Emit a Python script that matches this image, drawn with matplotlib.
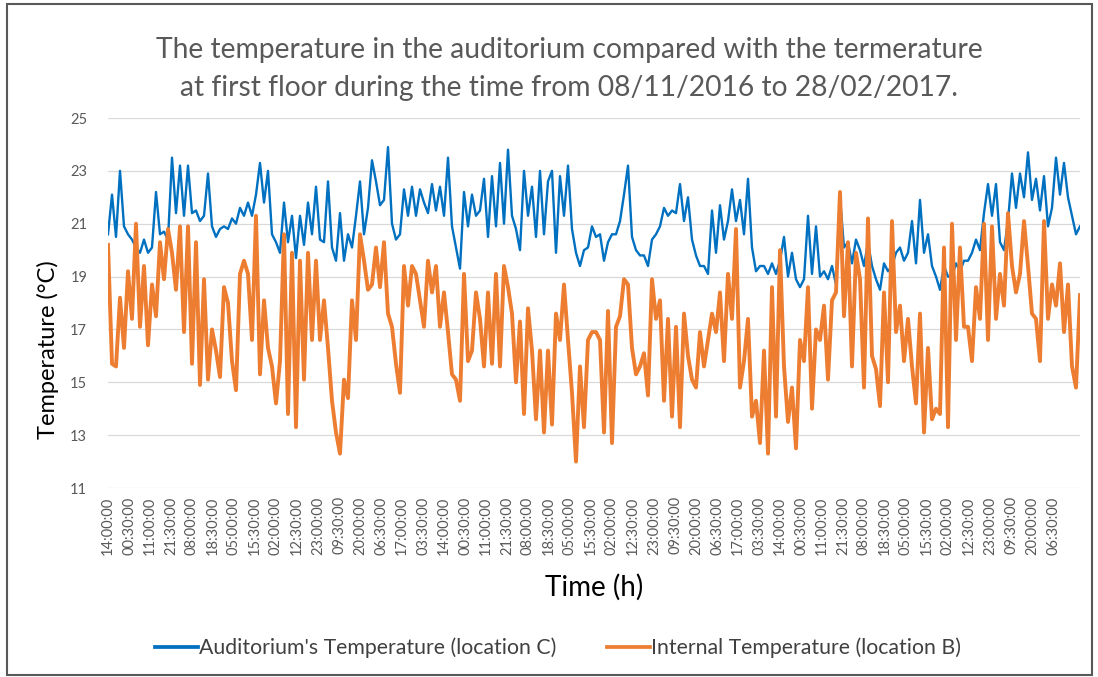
import numpy as np
import matplotlib
matplotlib.use("Agg")
import matplotlib.pyplot as plt
from matplotlib.patches import Rectangle

# ---------------- data (2-hourly readings) ----------------
auditorium_C = [
    20.6, 22.1, 20.5, 23.0, 20.9, 20.6, 20.4, 20.1, 19.9, 20.4, 19.9, 20.1, 22.2, 20.6, 20.7,
    20.4, 23.5, 21.4, 23.2, 21.3, 23.2, 21.4, 21.5, 21.1, 21.3, 22.9, 20.9, 20.5, 20.8,
    20.9, 20.8, 21.2, 21.0, 21.6, 21.3, 21.8, 21.3, 22.1, 23.3, 21.8, 23.0, 20.6, 20.3, 19.9,
    21.8, 20.3, 21.3, 19.7, 21.3, 20.2, 21.8, 20.6, 22.4, 20.4, 20.3, 22.6, 20.1, 19.6, 21.4, 19.6,
    20.6, 20.1, 21.3, 22.6, 20.6, 21.6, 23.4, 22.6, 21.7, 21.9, 23.9, 21.0, 20.4, 20.6, 22.3,
    21.3, 22.4, 21.3, 22.3, 21.8, 21.4, 22.5, 21.5, 22.4, 21.3, 23.5, 20.9, 20.1, 19.3, 22.2, 20.9,
    22.1, 21.3, 21.5, 22.7, 20.5, 22.8, 20.9, 23.3, 21.0, 23.8, 21.3, 20.8, 20.0, 23.0, 21.3,
    22.4, 20.5, 23.0, 20.6, 22.6, 23.0, 19.9, 22.8, 21.3, 23.2, 20.8, 19.9, 19.4, 20.0, 20.1, 20.9,
    20.5, 20.6, 19.6, 20.3, 20.6, 20.6, 21.1, 22.1, 23.2, 20.5, 20.0, 19.8, 19.8, 19.4, 20.4,
    20.6, 20.9, 21.6, 21.3, 21.5, 21.4, 22.5, 21.1, 22.0, 20.4, 19.8, 19.4, 19.4, 19.1, 21.5, 19.9,
    21.7, 20.4, 21.1, 22.3, 21.1, 21.9, 20.6, 22.7, 20.1, 19.2, 19.4, 19.4, 19.1, 19.5, 19.1,
    19.6, 20.5, 19.0, 19.9, 18.9, 18.6, 18.9, 21.3, 19.1, 20.9, 19.0, 19.2, 18.9, 19.4, 18.7, 22.0,
    20.1, 20.3, 19.5, 20.4, 20.0, 19.4, 20.3, 19.4, 18.9, 18.5, 19.5, 19.2, 19.4, 19.9, 20.1,
    19.6, 19.9, 21.1, 19.5, 21.9, 19.9, 20.6, 19.4, 19.0, 18.5, 19.4, 19.0, 19.0, 19.5, 19.2, 19.6,
    19.6, 19.9, 20.4, 20.0, 21.4, 22.5, 21.3, 22.5, 20.3, 20.0, 21.1, 22.9, 21.6, 22.9, 22.0,
    23.7, 21.9, 22.7, 21.5, 22.8, 20.9, 21.6, 23.5, 22.1, 23.3, 22.0, 21.3, 20.6, 20.9,
]

internal_B = [
    20.2, 15.7, 15.6, 18.2, 16.3, 19.2, 17.4, 21.0, 17.1, 19.4, 16.4, 18.7, 17.5, 20.3, 18.9,
    20.8, 19.9, 18.5, 20.9, 16.9, 20.9, 15.7, 20.3, 14.9, 18.9, 15.1, 17.0, 16.2, 15.2,
    18.6, 18.0, 15.8, 14.7, 19.1, 19.6, 19.1, 16.6, 21.3, 15.3, 18.1, 16.3, 15.6, 14.2, 15.8,
    20.6, 13.8, 19.9, 13.3, 19.6, 15.1, 19.9, 16.6, 19.6, 16.6, 18.1, 16.3, 14.3, 13.1, 12.3, 15.1,
    14.4, 18.1, 16.6, 20.6, 19.6, 18.5, 18.7, 20.1, 18.6, 20.3, 17.6, 17.1, 15.7, 14.6, 19.4,
    17.9, 19.4, 19.1, 18.1, 17.1, 19.6, 18.4, 19.4, 17.1, 18.4, 16.9, 15.3, 15.1, 14.3, 19.1, 15.8,
    16.2, 18.4, 17.4, 15.6, 18.4, 15.7, 19.1, 15.6, 19.4, 18.6, 17.6, 15.0, 17.3, 13.8, 17.8,
    16.2, 13.6, 16.2, 13.1, 16.2, 13.4, 17.6, 16.6, 18.7, 16.6, 14.6, 12.0, 15.6, 13.3, 16.6, 16.9,
    16.9, 16.6, 13.1, 17.7, 12.7, 17.1, 17.5, 18.9, 18.7, 16.3, 15.3, 15.6, 16.1, 14.5, 18.9,
    17.4, 18.1, 14.3, 17.4, 13.7, 17.1, 13.3, 17.6, 16.0, 15.1, 14.8, 16.9, 15.6, 16.6, 17.6, 16.9,
    18.4, 15.8, 19.1, 17.4, 20.8, 14.8, 15.8, 17.4, 13.7, 14.3, 12.7, 16.2, 12.3, 18.6, 13.7,
    20.0, 15.6, 13.5, 14.8, 12.5, 16.6, 15.8, 18.6, 14.0, 17.0, 16.6, 17.9, 15.1, 18.1, 18.4, 22.2,
    17.5, 20.3, 15.6, 19.9, 18.9, 14.8, 21.2, 16.0, 15.5, 14.1, 18.4, 15.0, 21.1, 16.9, 17.9,
    15.8, 17.4, 15.6, 14.2, 17.6, 13.1, 16.3, 13.6, 14.0, 13.8, 20.1, 13.3, 21.0, 16.6, 20.1, 17.1,
    17.1, 15.8, 18.6, 17.4, 21.0, 16.6, 20.9, 17.4, 19.1, 17.9, 21.4, 19.4, 18.4, 19.1, 21.1,
    19.4, 17.6, 17.4, 15.8, 21.1, 17.4, 18.7, 17.9, 19.5, 16.9, 18.7, 15.6, 14.8, 18.3,
]

sample_step_h = 2.0      # hours between readings above
label_step_h = 10.5      # hours between category labels
tick_labels = [
    "14:00:00", "00:30:00", "11:00:00", "21:30:00", "08:00:00", "18:30:00", "05:00:00", "15:30:00",
    "02:00:00", "12:30:00", "23:00:00", "09:30:00", "20:00:00", "06:30:00", "17:00:00", "03:30:00",
    "14:00:00", "00:30:00", "11:00:00", "21:30:00", "08:00:00", "18:30:00", "05:00:00", "15:30:00",
    "02:00:00", "12:30:00", "23:00:00", "09:30:00", "20:00:00", "06:30:00", "17:00:00", "03:30:00",
    "14:00:00", "00:30:00", "11:00:00", "21:30:00", "08:00:00", "18:30:00", "05:00:00", "15:30:00",
    "02:00:00", "12:30:00", "23:00:00", "09:30:00", "20:00:00", "06:30:00",
]
y_ticks = [11, 13, 15, 17, 19, 21, 23, 25]

title_lines = ["The temperature in the auditorium compared with the termerature",
               "at first floor during the time from 08/11/2016 to 28/02/2017."]
series_names = ["Auditorium's Temperature (location C)", "Internal Temperature (location B)"]

# ---------------- figure ----------------
FONT = ["Lato", "DejaVu Sans"]
plt.rcParams["font.family"] = FONT

W, H = 1098, 677
fig = plt.figure(figsize=(W / 100, H / 100), dpi=100)
fig.patch.set_facecolor("white")

ax = fig.add_axes([108 / W, (H - 488) / H, 972 / W, 370 / H])

t = np.arange(len(auditorium_C)) * sample_step_h
l1, = ax.plot(t, auditorium_C, color="#0070C0", lw=1.7, solid_joinstyle="round")
l2, = ax.plot(t, internal_B, color="#ED7D31", lw=2.8, solid_joinstyle="round")

ax.set_xlim(0, (len(auditorium_C) - 1) * sample_step_h)
ax.set_ylim(11, 25)
ax.set_yticks(y_ticks)
ax.set_xticks(np.arange(len(tick_labels)) * label_step_h)
ax.set_xticklabels(tick_labels, rotation=90)
for s in ax.spines.values():
    s.set_visible(False)
ax.grid(axis="y", color="#D9D9D9", lw=0.9)
ax.set_axisbelow(True)
ax.tick_params(axis="both", length=0, colors="#595959", labelsize=10.5)
ax.tick_params(axis="y", pad=15)
ax.tick_params(axis="x", pad=6)

ax.set_ylabel("Temperature (°C)", fontsize=17, color="black", va="center")
ax.yaxis.set_label_coords((48 - 108) / 972, (488 - 350) / 370)
ax.set_xlabel("Time (h)", fontsize=20, color="black", va="center")
ax.xaxis.set_label_coords((594 - 108) / 972, (488 - 587) / 370)

fig.text(569 / W, 1 - 50 / H, title_lines[0], ha="center", va="center",
         fontsize=20.3, color="#595959")
fig.text(569 / W, 1 - 88 / H, title_lines[1], ha="center", va="center",
         fontsize=20.3, color="#595959")

leg = fig.legend([l1, l2], series_names, loc="center", ncol=2,
                 bbox_to_anchor=(558 / W, 1 - 648 / H), frameon=False,
                 fontsize=15.3, handlelength=2.0, handletextpad=0.05,
                 columnspacing=2.4)
for txt in leg.get_texts():
    txt.set_color("#404040")
for ln in leg.get_lines():
    ln.set_linewidth(2.7)

fig.add_artist(Rectangle((7 / W, 2 / H), 1085 / W, 671 / H, transform=fig.transFigure,
                         fill=False, edgecolor="#595959", lw=1.5))

fig.savefig("out.png", dpi=100)
